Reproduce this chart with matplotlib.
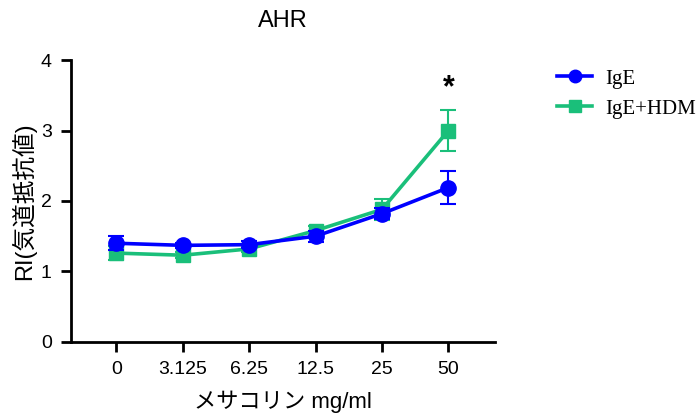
import numpy as np
import matplotlib
matplotlib.use("Agg")
import matplotlib.pyplot as plt
from matplotlib.lines import Line2D

plt.rcParams['font.family'] = ['Liberation Sans', 'Noto Sans CJK JP', 'DejaVu Sans']

doses = ['0', '3.125', '6.25', '12.5', '25', '50']
ige = [1.40, 1.37, 1.38, 1.50, 1.82, 2.19]
ige_err = [0.10, 0.04, 0.05, 0.08, 0.08, 0.24]
hdm = [1.26, 1.23, 1.32, 1.58, 1.88, 3.00]
hdm_err = [0.10, 0.04, 0.05, 0.06, 0.15, 0.29]
star_pos = 5
star_y = 3.6

blue = '#0000FF'
green = '#1ABF7A'

fig = plt.figure(figsize=(6.98, 4.2), dpi=100)
ax = fig.add_axes([0.102, 0.186, 0.607, 0.671])

x = np.arange(len(doses))
ax.errorbar(x, hdm, yerr=hdm_err, color=green, marker='s', markersize=10,
            linewidth=2.6, capsize=6, elinewidth=1.5, capthick=1.5, zorder=3)
ax.errorbar(x, ige, yerr=ige_err, color=blue, marker='o', markersize=11,
            linewidth=2.6, capsize=6, elinewidth=1.5, capthick=1.5, zorder=4)

ax.text(star_pos, star_y, '*', ha='center', va='center', fontsize=22, fontweight='bold')

ax.set_xlim(-0.68, 5.7)
ax.set_ylim(0, 4)
ax.set_xticks(x)
ax.set_xticklabels(doses)
ax.set_yticks([0, 1, 2, 3, 4])
ax.spines['top'].set_visible(False)
ax.spines['right'].set_visible(False)
ax.spines['left'].set_linewidth(2)
ax.spines['bottom'].set_linewidth(2)
ax.tick_params(axis='both', width=2, length=7, labelsize=14, pad=7)

ax.set_xlabel('メサコリン mg/ml', fontsize=16, labelpad=9)
ax.set_ylabel('RI(気道抵抗値)', fontsize=17, labelpad=3)
ax.set_title('AHR', fontsize=17, pad=24)

handles = [Line2D([], [], color=blue, marker='o', markersize=9, linewidth=2.6),
           Line2D([], [], color=green, marker='s', markersize=8, linewidth=2.6)]
fig.legend(handles, ['IgE', 'IgE+HDM'], loc='upper left', bbox_to_anchor=(0.771, 0.88),
           frameon=False, prop={'family': 'Liberation Serif', 'size': 15},
           handlelength=1.7, handletextpad=0.6, labelspacing=0.5)

fig.savefig('out.png', dpi=100)
